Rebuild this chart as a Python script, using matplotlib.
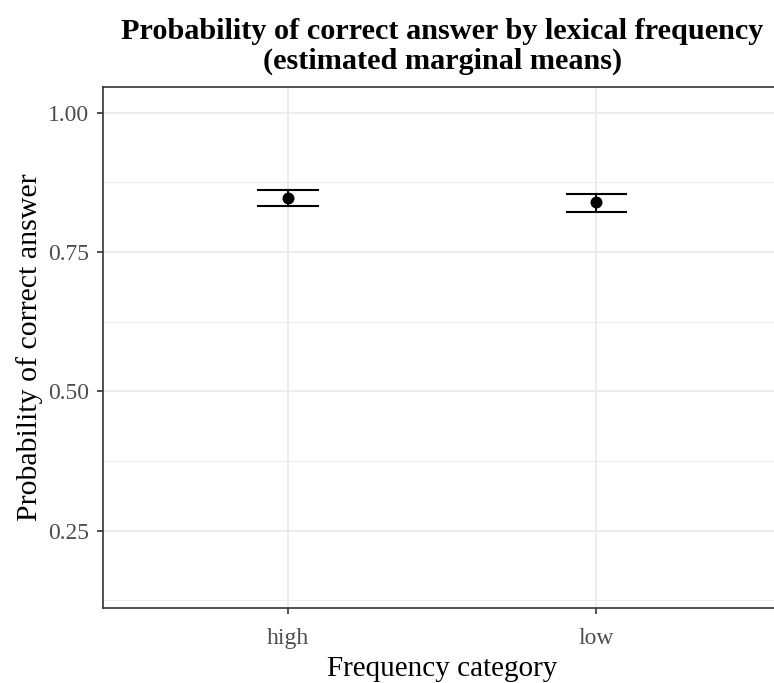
import matplotlib
matplotlib.use("Agg")
import matplotlib.pyplot as plt
from matplotlib.ticker import FixedLocator

categories = ["high", "low"]
prob = [0.8465, 0.8393]
lower = [0.8332, 0.8213]
upper = [0.8613, 0.8542]

yticks = [0.25, 0.50, 0.75, 1.00]
yticklabels = ["0.25", "0.50", "0.75", "1.00"]
yminor = [0.125, 0.375, 0.625, 0.875]

plt.rcParams['font.family'] = ['Liberation Serif', 'DejaVu Serif']

W, H = 774, 683
fig = plt.figure(figsize=(W / 100, H / 100), dpi=100)
left, right, top, bottom = 103, 781.5, 87, 608
# the panel extends past the right edge, as in the reference
ax = fig.add_axes([left / W, 1 - bottom / H, (right - left) / W, (bottom - top) / H])

x = list(range(1, len(categories) + 1))
yerr = [[p - l for p, l in zip(prob, lower)], [u - p for p, u in zip(prob, upper)]]
ax.errorbar(x, prob, yerr=yerr, fmt='o', color='black', ms=7.6,
            elinewidth=1.4, capsize=0, zorder=3)
cap_half = 0.1
ax.hlines(upper, [xi - cap_half for xi in x], [xi + cap_half for xi in x],
          color='black', linewidth=1.5, zorder=3)
ax.hlines(lower, [xi - cap_half for xi in x], [xi + cap_half for xi in x],
          color='black', linewidth=1.5, zorder=3)

ax.set_xlim(0.4, 2.6)
ax.set_ylim(0.1113, 1.046)
ax.set_xticks(x)
ax.set_xticklabels(categories)
ax.set_yticks(yticks)
ax.set_yticklabels(yticklabels)
ax.yaxis.set_minor_locator(FixedLocator(yminor))

ax.grid(True, which='major', color='#EBEBEB', linewidth=1.3)
ax.grid(True, which='minor', axis='y', color='#EBEBEB', linewidth=0.7)
ax.set_axisbelow(True)
for s in ax.spines.values():
    s.set_color('#333333')
    s.set_linewidth(1.2)
ax.tick_params(axis='both', which='major', colors='#333333', labelcolor='#4D4D4D',
               labelsize=17, length=4.3, width=1.2)
ax.tick_params(axis='x', which='major', pad=10)
ax.tick_params(axis='y', which='major', pad=5.5)
ax.tick_params(axis='y', which='minor', length=0)

ax.set_xlabel("Frequency category", fontsize=21, color='black')
ax.xaxis.set_label_coords(0.5, (bottom - 656) / (bottom - top))
ax.set_ylabel("Probability of correct answer", fontsize=21.5, color='black')
ax.yaxis.set_label_coords((43.5 - left) / (right - left), 0.5)

fig.text((left + right) / 2 / W, 1 - 18 / H,
         "Probability of correct answer by lexical frequency\n(estimated marginal means)",
         ha='center', va='top', fontsize=21.8, fontweight='bold', linespacing=1.15)

fig.savefig("out.png", dpi=100)
